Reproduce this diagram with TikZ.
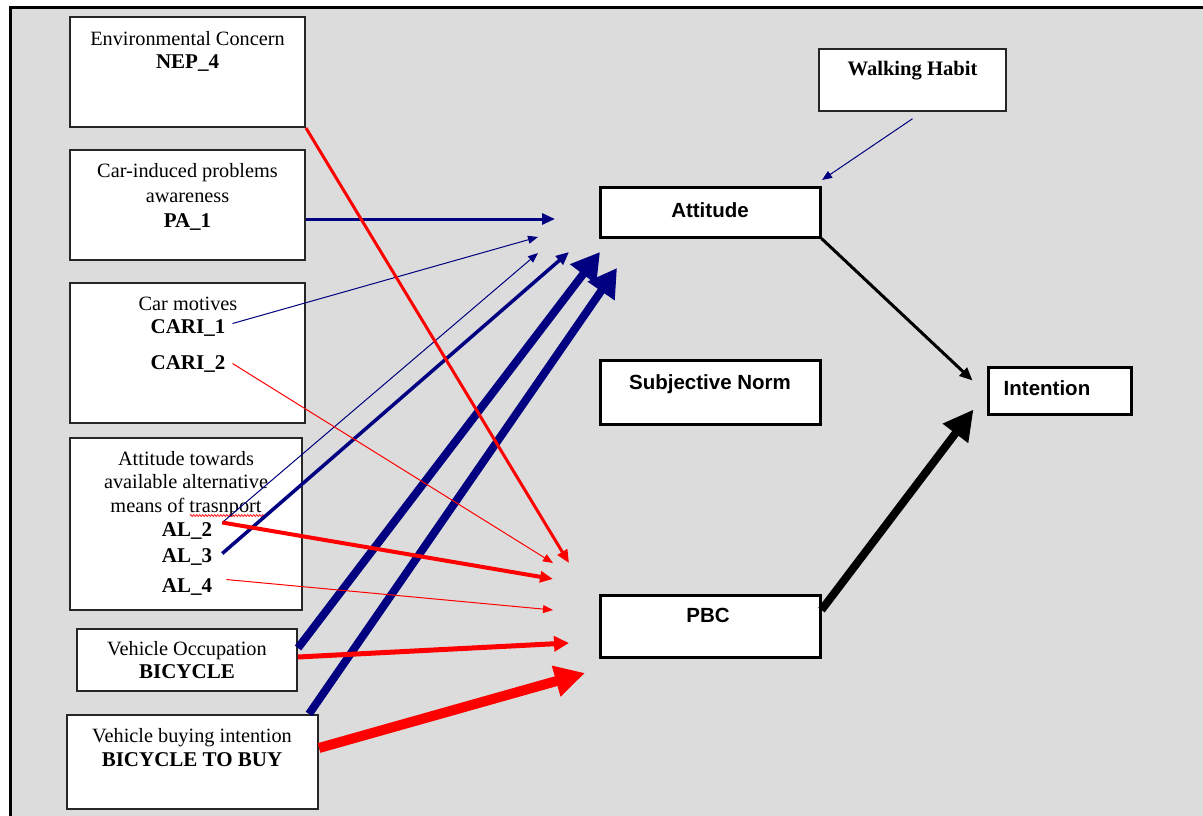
\documentclass[tikz,border=0pt]{standalone}
\usepackage{fontspec}
\setmainfont{Liberation Serif}
\setsansfont{Liberation Sans}
\usetikzlibrary{arrows.meta,decorations.pathmorphing}
\definecolor{bgc}{RGB}{220,220,220}
\definecolor{navyc}{RGB}{0,0,128}
\definecolor{redc}{RGB}{255,0,0}
\begin{document}
\begin{tikzpicture}[x=1pt,y=-1pt,
  lbox/.style={draw=black!85, line width=2pt, fill=white, inner sep=0pt},
  cbox/.style={draw=black, line width=3pt, fill=white, inner sep=0pt},
  stxt/.style={font=\fontsize{20.3}{24}\selectfont, inner sep=0pt, anchor=base},
  btxt/.style={font=\fontsize{21}{24}\selectfont\bfseries, inner sep=0pt, anchor=base},
  ftxt/.style={font=\fontsize{20.5}{24}\selectfont\sffamily\bfseries, inner sep=0pt, anchor=base},
  nv/.style={draw=navyc},
  rd/.style={draw=redc},
  tipS/.style={-{Triangle[length=10pt,width=8pt]}},
  tipM/.style={-{Triangle[length=13pt,width=11pt]}},
  tipL/.style={-{Triangle[length=15pt,width=15pt]}},
  tipXL/.style={-{Triangle[length=30pt,width=30pt]}}
]
\useasboundingbox (0,0) rectangle (1203,816);
\fill[white] (0,0) rectangle (1203,816);
\draw[fill=bgc, line width=3pt] (10,8) rectangle (1225,835);

% left boxes
\node[lbox, minimum width=235pt, minimum height=110pt] (env) at (187.5,72) {};
\node[stxt] (envt) at (187.5,46) {Environmental Concern};
\node[btxt] (nep) at (187.5,69) {NEP\_4};

\node[lbox, minimum width=235pt, minimum height=110pt] (pab) at (187.5,205) {};
\node[stxt] (pat1) at (187.5,177) {Car-induced problems};
\node[stxt] (pat2) at (187.5,202) {awareness};
\node[btxt] (pa1) at (187.5,227) {PA\_1};

\node[lbox, minimum width=235pt, minimum height=140pt] (carb) at (187.5,353) {};
\node[stxt] (cart) at (188,310) {Car motives};
\node[btxt] (cari1) at (188,333) {CARI\_1};
\node[btxt] (cari2) at (188,369) {CARI\_2};

\node[lbox, minimum width=232pt, minimum height=172pt] (alb) at (186,524) {};
\node[stxt] (alt1) at (186,465) {Attitude towards};
\node[stxt] (alt2) at (186,488) {available alternative};
\node[stxt] (alt3) at (186,512) {means of trasnport};
\node[btxt] (al2) at (187,536) {AL\_2};
\node[btxt] (al3) at (187,562) {AL\_3};
\node[btxt] (al4) at (187,592) {AL\_4};
\draw[redc, line width=0.7pt, decoration={zigzag, segment length=3pt, amplitude=1pt}, decorate] (190,515.5) -- (264,515.5);

\node[lbox, minimum width=220pt, minimum height=62pt] (vo) at (187,660) {};
\node[stxt] (vot) at (187,655) {Vehicle Occupation};
\node[btxt] (bic) at (187,678) {BICYCLE};

\node[lbox, minimum width=251pt, minimum height=94pt] (vb) at (192.5,762) {};
\node[stxt] (vbt) at (192,742) {Vehicle buying intention};
\node[btxt] (bicb) at (192,766) {BICYCLE TO BUY};

% right boxes
\node[lbox, line width=1.5pt, minimum width=187pt, minimum height=62pt] (wh) at (912.5,80) {};
\node[btxt, font=\fontsize{20.6}{24}\selectfont\bfseries] (wht) at (912.5,76) {Walking Habit};

\node[cbox, minimum width=220pt, minimum height=50pt] (att) at (710,212) {};
\node[ftxt] (attt) at (710,217) {Attitude};
\node[cbox, minimum width=220pt, minimum height=64pt] (sn) at (710,392) {};
\node[ftxt] (snt) at (710,389) {Subjective Norm};
\node[cbox, minimum width=220pt, minimum height=62pt] (pbc) at (710,626) {};
\node[ftxt] (pbct) at (708,622) {PBC};
\node[cbox, minimum width=143pt, minimum height=47pt] (int) at (1059.5,390.5) {};
\node[ftxt] (intt) at (1047,395) {Intention};

% free ends
\coordinate (eA1) at (555,219);
\coordinate (eA2) at (538,237);
\coordinate (eA3) at (538,253);
\coordinate (eA4) at (569,252);
\coordinate (eA5) at (600,252);
\coordinate (eA6) at (617,268);
\coordinate (eW) at (822,180);
\coordinate (eR1) at (569,563);
\coordinate (eR2) at (553,563);
\coordinate (eR3) at (553,579);
\coordinate (eR4) at (553,610);
\coordinate (eR5) at (569,643);
\coordinate (eR6) at (585,673);

% navy arrows
\draw[nv, line width=3pt, tipM] (pab.east |- eA1) -- (eA1);
\draw[nv, line width=1pt, tipS] ([xshift=7pt,yshift=4pt]cari1.east) -- (eA2);
\draw[nv, line width=1pt, tipS] ([xshift=10pt,yshift=8pt]al2.east) -- (eA3);
\draw[nv, line width=3.5pt, tipM] ([xshift=10pt,yshift=3pt]al3.east) -- (eA4);
\draw[nv, line width=8pt, {-Triangle[length=28pt,width=31pt]}] ([yshift=12pt]vo.east) -- (eA5);
\draw[nv, line width=8pt, {-Triangle[length=28pt,width=31pt]}] ([xshift=-10pt]vb.north east) -- (eA6);
\draw[nv, line width=1pt, tipS] ([yshift=-7pt]wh.south) -- (eW);

% red arrows
\draw[rd, line width=3pt, tipM] (env.south east) -- (eR1);
\draw[rd, line width=1pt, tipS] ([xshift=7pt,yshift=0pt]cari2.east) -- (eR2);
\draw[rd, line width=4pt, tipM] ([xshift=10pt,yshift=8pt]al2.east) -- (eR3);
\draw[rd, line width=1pt, tipS] ([xshift=14pt,yshift=7pt]al4.east) -- (eR4);
\draw[rd, line width=5pt, tipL] ([yshift=3pt]vo.east) -- (eR5);
\draw[rd, line width=10pt, tipXL] ([yshift=14pt]vb.east) -- (eR6);

% black arrows
\draw[line width=3pt, tipM] (att.south east) -- ([shift={(-14pt,-15pt)}]int.north west);
\draw[line width=8pt, {-Triangle[length=30pt,width=30pt]}] ([yshift=16pt]pbc.east) -- ([shift={(-13pt,6pt)}]int.south west);
\end{tikzpicture}
\end{document}
